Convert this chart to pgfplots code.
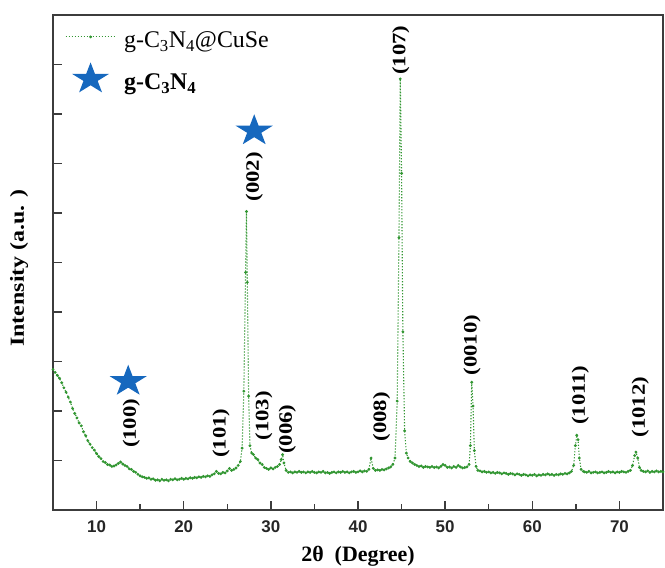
\documentclass[border=0pt]{standalone}
\usepackage{fontspec}
\setmainfont{Liberation Serif}
\setsansfont{Liberation Sans}
\usepackage{graphicx}
\usepackage{pgfplots}
\pgfplotsset{compat=1.18}
\definecolor{curvegreen}{RGB}{50,150,50}
\definecolor{starblue}{RGB}{22,104,190}
\definecolor{axgray}{RGB}{60,60,60}
\pgfdeclareplotmark{fstar}{%
  \pgfpathmoveto{\pgfpointpolar{90}{\pgfplotmarksize}}%
  \pgfpathlineto{\pgfpointscale{0.382}{\pgfpointpolar{126}{\pgfplotmarksize}}}%
  \pgfpathlineto{\pgfpointpolar{162}{\pgfplotmarksize}}%
  \pgfpathlineto{\pgfpointscale{0.382}{\pgfpointpolar{198}{\pgfplotmarksize}}}%
  \pgfpathlineto{\pgfpointpolar{234}{\pgfplotmarksize}}%
  \pgfpathlineto{\pgfpointscale{0.382}{\pgfpointpolar{270}{\pgfplotmarksize}}}%
  \pgfpathlineto{\pgfpointpolar{306}{\pgfplotmarksize}}%
  \pgfpathlineto{\pgfpointscale{0.382}{\pgfpointpolar{342}{\pgfplotmarksize}}}%
  \pgfpathlineto{\pgfpointpolar{18}{\pgfplotmarksize}}%
  \pgfpathlineto{\pgfpointscale{0.382}{\pgfpointpolar{54}{\pgfplotmarksize}}}%
  \pgfpathclose\pgfusepathqfill}
\pgfplotstableread{
x y
5.00 2.84
5.25 2.78
5.50 2.72
5.75 2.66
6.00 2.57
6.25 2.47
6.50 2.38
6.75 2.28
7.00 2.18
7.25 2.05
7.50 1.95
7.75 1.86
8.00 1.76
8.25 1.70
8.50 1.58
8.75 1.50
9.00 1.40
9.25 1.33
9.50 1.26
9.75 1.21
10.00 1.14
10.25 1.08
10.50 1.04
10.75 0.98
11.00 0.96
11.25 0.92
11.50 0.91
11.75 0.88
12.00 0.89
12.25 0.91
12.50 0.94
12.75 0.97
13.00 0.93
13.25 0.90
13.50 0.88
13.75 0.83
14.00 0.82
14.25 0.78
14.50 0.76
14.75 0.72
15.00 0.69
15.25 0.67
15.50 0.66
15.75 0.64
16.00 0.65
16.25 0.62
16.50 0.63
16.75 0.60
17.00 0.61
17.25 0.59
17.50 0.62
17.75 0.60
18.00 0.61
18.25 0.59
18.50 0.62
18.75 0.61
19.00 0.63
19.25 0.61
19.50 0.62
19.75 0.64
20.00 0.62
20.25 0.64
20.50 0.63
20.75 0.65
21.00 0.64
21.25 0.66
21.50 0.65
21.75 0.67
22.00 0.66
22.25 0.68
22.50 0.67
22.75 0.69
23.00 0.68
23.25 0.71
23.50 0.73
23.75 0.78
24.00 0.74
24.25 0.73
24.50 0.76
24.75 0.75
25.00 0.79
25.25 0.84
25.50 0.80
25.75 0.82
26.00 0.85
26.25 0.90
26.50 0.98
26.70 1.25
26.90 2.40
27.10 4.80
27.20 6.03
27.30 4.60
27.45 2.30
27.60 1.30
27.80 1.15
28.00 1.12
28.25 1.05
28.50 1.02
28.75 0.95
29.00 0.92
29.25 0.86
29.50 0.84
29.75 0.82
30.00 0.85
30.25 0.83
30.50 0.86
30.75 0.88
31.00 0.92
31.20 1.02
31.35 1.12
31.50 0.95
31.75 0.80
32.00 0.76
32.25 0.77
32.50 0.75
32.75 0.77
33.00 0.76
33.25 0.78
33.50 0.76
33.75 0.77
34.00 0.75
34.25 0.77
34.50 0.76
34.75 0.78
35.00 0.76
35.25 0.75
35.50 0.77
35.75 0.76
36.00 0.78
36.25 0.75
36.50 0.76
36.75 0.74
37.00 0.76
37.25 0.77
37.50 0.75
37.75 0.77
38.00 0.76
38.25 0.78
38.50 0.76
38.75 0.77
39.00 0.75
39.25 0.77
39.50 0.78
39.75 0.76
40.00 0.77
40.25 0.79
40.50 0.77
40.75 0.79
41.00 0.78
41.25 0.82
41.50 1.05
41.75 0.84
42.00 0.80
42.25 0.81
42.50 0.80
42.75 0.82
43.00 0.81
43.25 0.83
43.50 0.85
43.75 0.87
44.00 0.92
44.25 1.05
44.50 2.20
44.70 5.50
44.85 8.71
45.00 6.80
45.15 3.60
45.35 1.60
45.55 1.15
45.75 1.05
46.00 0.98
46.25 0.95
46.50 0.92
46.75 0.90
47.00 0.88
47.25 0.89
47.50 0.86
47.75 0.88
48.00 0.87
48.25 0.86
48.50 0.88
48.75 0.86
49.00 0.87
49.25 0.85
49.50 0.88
49.75 0.92
50.00 0.90
50.25 0.86
50.50 0.87
50.75 0.85
51.00 0.88
51.25 0.86
51.50 0.90
51.75 0.87
52.00 0.85
52.25 0.86
52.50 0.87
52.75 0.92
52.90 1.30
53.05 2.58
53.20 2.10
53.35 1.20
53.55 0.88
53.75 0.80
54.00 0.79
54.25 0.77
54.50 0.78
54.75 0.76
55.00 0.77
55.25 0.75
55.50 0.76
55.75 0.74
56.00 0.76
56.25 0.75
56.50 0.73
56.75 0.75
57.00 0.74
57.25 0.72
57.50 0.74
57.75 0.73
58.00 0.71
58.25 0.73
58.50 0.72
58.75 0.70
59.00 0.72
59.25 0.71
59.50 0.69
59.75 0.71
60.00 0.70
60.25 0.72
60.50 0.69
60.75 0.71
61.00 0.70
61.25 0.72
61.50 0.71
61.75 0.73
62.00 0.71
62.25 0.72
62.50 0.70
62.75 0.72
63.00 0.71
63.25 0.73
63.50 0.72
63.75 0.74
64.00 0.73
64.25 0.75
64.50 0.78
64.75 0.90
64.95 1.30
65.10 1.51
65.25 1.42
65.40 1.05
65.60 0.82
65.85 0.78
66.00 0.77
66.25 0.76
66.50 0.78
66.75 0.75
67.00 0.76
67.25 0.77
67.50 0.75
67.75 0.76
68.00 0.77
68.25 0.75
68.50 0.76
68.75 0.78
69.00 0.76
69.25 0.77
69.50 0.75
69.75 0.77
70.00 0.76
70.25 0.78
70.50 0.77
70.75 0.76
71.00 0.78
71.25 0.80
71.50 0.90
71.75 1.10
71.90 1.17
72.10 1.05
72.30 0.86
72.50 0.80
72.75 0.78
73.00 0.77
73.25 0.79
73.50 0.76
73.75 0.78
74.00 0.77
74.25 0.79
74.50 0.77
74.75 0.78
75.00 0.77
}\xrd
\begin{document}
\begin{tikzpicture}
\begin{axis}[
  scale only axis, width=610bp, height=495bp,
  xmin=5, xmax=75, ymin=0, ymax=10,
  xtick={10,20,...,70}, minor xtick={15,25,...,65},
  ytick={1,...,9}, yticklabels={},
  tick pos=left, tick align=inside,
  major tick length=9bp, minor tick length=6bp,
  axis line style={axgray, line width=1.8bp},
  tick style={axgray, line width=1.4bp},
  /pgf/number format/assume math mode=true,
  xticklabel style={font=\sffamily\bfseries\fontsize{17}{17}\selectfont, text=black!85, yshift=-7bp},
  xlabel={\textbf{2θ\ \ (Degree)}},
  xlabel style={font=\fontsize{22}{22}\selectfont, at={(axis description cs:0.5,-0.105)}, anchor=base},
  ylabel={\scalebox{1.2}[1]{\textbf{Intensity (a.u. )}}},
  ylabel style={font=\fontsize{20}{20}\selectfont, at={(axis description cs:-0.0557,0.489)}, anchor=center},
  legend style={draw=none, fill=none, inner sep=0pt, outer sep=0pt,
    at={(axis description cs:0.0197,0.9657)}, anchor=north west,
    font=\fontsize{24}{28}\selectfont, cells={anchor=base west},
    nodes={inner sep=0pt}, column sep=8bp, row sep=13bp},
  legend image code/.code={\draw[mark repeat=2,mark phase=2,#1] plot coordinates {(0bp,11bp) (25bp,11bp) (50bp,11bp)};},
  clip=false,
]
\addplot[color=curvegreen, dash pattern=on 1.2bp off 1.8bp, line width=1.1bp, mark=*, mark size=0.8bp, mark options={solid}] table[x=x,y=y] {\xrd};
\addlegendentry{g-C\textsubscript{3}N\textsubscript{4}@CuSe}
\addplot[only marks, mark=fstar, mark size=19.5bp, color=starblue, mark options={yscale=0.85}] coordinates {(13.63,2.60) (28.09,7.66)};
\addlegendentry{\textbf{g-C\textsubscript{3}N\textsubscript{4}}}
\begin{scope}[every node/.style={rotate=90, font=\bfseries\fontsize{19}{19}\selectfont, inner sep=0pt}]
\node at (axis cs:14.0,1.75) {\scalebox{1.2}[1]{(100)}};
\node at (axis cs:24.3,1.55) {\scalebox{1.2}[1]{(101)}};
\node at (axis cs:29.2,1.90) {\scalebox{1.2}[1]{(103)}};
\node at (axis cs:31.9,1.63) {\scalebox{1.2}[1]{(006)}};
\node at (axis cs:42.7,1.88) {\scalebox{1.2}[1]{(008)}};
\node at (axis cs:53.1,3.33) {\scalebox{1.2}[1]{(0010)}};
\node at (axis cs:65.5,2.32) {\scalebox{1.2}[1]{(1011)}};
\node at (axis cs:72.4,2.08) {\scalebox{1.2}[1]{(1012)}};
\node at (axis cs:44.9,9.29) {\scalebox{1.2}[1]{(107)}};
\node at (axis cs:28.1,6.73) {\scalebox{1.2}[1]{(002)}};
\end{scope}
\coordinate (bl) at (rel axis cs:0,0);
\coordinate (tr) at (rel axis cs:1,1);
\end{axis}
\pgfresetboundingbox
\path ([shift={(-53bp,-58bp)}]bl) rectangle ([shift={(2bp,15bp)}]tr);
\end{tikzpicture}
\end{document}
